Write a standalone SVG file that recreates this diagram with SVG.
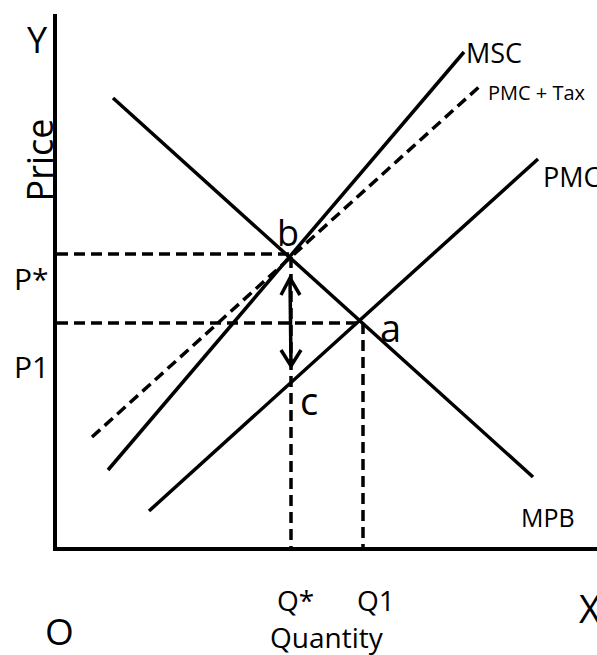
<svg xmlns="http://www.w3.org/2000/svg" width="597" height="655" viewBox="0 0 597 655">
<style>
.ax{stroke:#000;stroke-width:4;fill:none}
.ln{stroke:#000;stroke-width:3.5;fill:none;stroke-linecap:butt}
.dash{stroke:#000;stroke-width:3.5;fill:none;stroke-dasharray:11 6}
.t{font-family:"Open Sans","Noto Sans","DejaVu Sans",sans-serif;fill:#000}
</style>
<rect width="597" height="655" fill="#fff"/>
<g id="axes">
<line class="ax" x1="55" y1="14" x2="55" y2="551"/>
<line class="ax" x1="53" y1="549" x2="597" y2="549"/>
</g>
<g id="connectors">
<line class="dash" x1="57" y1="254" x2="290" y2="254"/>
<line class="dash" x1="57" y1="323" x2="362" y2="323"/>
<line class="dash" x1="291" y1="257" x2="291" y2="547"/>
<line class="dash" x1="363" y1="323" x2="363" y2="547"/>
<line class="dash" x1="92" y1="437" x2="480" y2="86"/>
</g>
<g id="curves">
<line id="MPB-line" class="ln" x1="113" y1="98" x2="533" y2="477"/>
<line id="MSC-line" class="ln" x1="108" y1="470" x2="464" y2="52"/>
<line id="PMC-line" class="ln" x1="149" y1="511" x2="538" y2="159"/>
</g>
<g id="arrow">
<line class="ln" x1="290" y1="278" x2="291" y2="366"/>
<polyline class="ln" points="281,295 290,278 300,295"/>
<polyline class="ln" points="281,350 291,366 301,350"/>
</g>
<g id="labels">
<text class="t" x="27" y="53" font-size="36">Y</text>
<text class="t" font-size="36" text-anchor="middle" transform="translate(53,160) rotate(-90)">Price</text>
<text class="t" x="466" y="63" font-size="27">MSC</text>
<text class="t" x="488" y="100" font-size="20">PMC + Tax</text>
<text class="t" x="543" y="187" font-size="27">PMC</text>
<text class="t" x="277" y="246" font-size="36">b</text>
<text class="t" x="380" y="342" font-size="38">a</text>
<text class="t" x="300" y="415" font-size="38">c</text>
<text class="t" x="14" y="290" font-size="30">P*</text>
<text class="t" x="14" y="378" font-size="30">P1</text>
<text class="t" x="521" y="527" font-size="25">MPB</text>
<text class="t" x="277" y="611" font-size="28">Q*</text>
<text class="t" x="357" y="611" font-size="28">Q1</text>
<text class="t" x="270" y="648" font-size="28">Quantity</text>
<text class="t" x="45" y="645" font-size="37">O</text>
<text class="t" x="579" y="623" font-size="38">X</text>
</g>
</svg>
